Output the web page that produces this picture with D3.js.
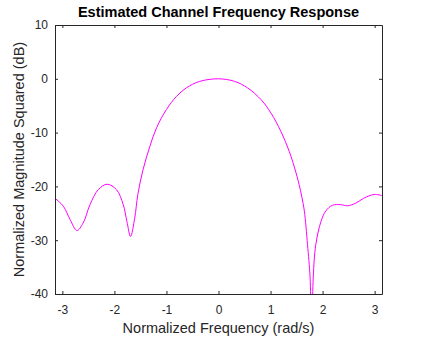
<!DOCTYPE html>
<html>
<head>
<meta charset="utf-8">
<script src="https://cdn.jsdelivr.net/npm/d3@7"></script>
<style>
  html, body { margin: 0; padding: 0; background: #fff; }
  svg { display: block; font-family: "Liberation Sans", Arial, Helvetica, sans-serif; }
</style>
</head>
<body>
<svg id="chart" width="423" height="338"></svg>
<script>
// Normalized frequency (rad/s) samples of the estimated channel response
const freq = [-3.1416, -2.98, -2.85, -2.72, -2.60, -2.47, -2.31, -2.14, -1.96, -1.83, -1.76, -1.69,
  -1.61, -1.55, -1.45, -1.32, -1.19, -1.00, -0.81, -0.62, -0.36, 0.00,
  0.31, 0.56, 0.82, 1.01, 1.20, 1.36, 1.49, 1.55, 1.60, 1.65, 1.71, 1.76, 1.79,
  1.82, 1.87, 1.97, 2.06, 2.19, 2.35, 2.48, 2.64, 2.79, 2.99, 3.1416];
// Normalized magnitude squared (dB)
const magDb = [-22.2, -23.7, -26.2, -28.2, -26.8, -23.4, -20.6, -19.6, -20.6, -23.4, -26.5, -29.3,
  -25.9, -21.5, -16.9, -12.6, -9.1, -5.7, -3.3, -1.7, -0.48, 0.0,
  -0.48, -1.7, -3.9, -6.4, -9.8, -13.5, -17.5, -19.7, -21.9, -24.6, -30.8, -37.0, -50.0,
  -37.0, -30.8, -26.5, -24.6, -23.5, -23.4, -23.6, -23.1, -22.2, -21.5, -21.7];

const xTicks = [-3, -2, -1, 0, 1, 2, 3];
const yTicks = [-40, -30, -20, -10, 0, 10];

const svg = d3.select("#chart");
const plotLeft = 55, plotRight = 382, plotTop = 25, plotBottom = 294;
const axisColor = "#262626";
const fmt = d => String(d);

const x = d3.scaleLinear().domain([-Math.PI, Math.PI]).range([plotLeft, plotRight]);
const y = d3.scaleLinear().domain([-40, 10]).range([plotBottom, plotTop]);

svg.append("defs").append("clipPath").attr("id", "plotArea")
  .append("rect").attr("x", plotLeft).attr("y", plotTop)
  .attr("width", plotRight - plotLeft).attr("height", plotBottom - plotTop);

// Response curve
const pts = freq.map((f, i) => [f, magDb[i]]);
svg.append("path")
  .datum(pts)
  .attr("clip-path", "url(#plotArea)")
  .attr("fill", "none")
  .attr("stroke", "#ff00ff")
  .attr("stroke-width", 1)
  .attr("d", d3.line().x(d => x(d[0])).y(d => y(d[1])).curve(d3.curveCatmullRom.alpha(0.5)));

// Axes with inward ticks on all four sides
function styleAxis(g) {
  g.selectAll("path.domain").attr("stroke", axisColor);
  g.selectAll(".tick line").attr("stroke", axisColor);
  g.selectAll(".tick text").attr("fill", axisColor).attr("font-size", "12px")
    .attr("font-family", "Liberation Sans, Arial, sans-serif");
}

svg.append("g").attr("transform", `translate(0,${plotBottom})`)
  .call(d3.axisBottom(x).tickValues(xTicks).tickSizeInner(-3).tickSizeOuter(0).tickPadding(11).tickFormat(fmt))
  .call(styleAxis);
svg.append("g").attr("transform", `translate(0,${plotTop})`)
  .call(d3.axisTop(x).tickValues(xTicks).tickSizeInner(-3).tickSizeOuter(0).tickFormat(""))
  .call(styleAxis);
svg.append("g").attr("transform", `translate(${plotLeft},0)`)
  .call(d3.axisLeft(y).tickValues(yTicks).tickSizeInner(-3).tickSizeOuter(0).tickPadding(7).tickFormat(fmt))
  .call(styleAxis);
svg.append("g").attr("transform", `translate(${plotRight},0)`)
  .call(d3.axisRight(y).tickValues(yTicks).tickSizeInner(-3).tickSizeOuter(0).tickFormat(""))
  .call(styleAxis);

// Title and axis labels
svg.append("text")
  .attr("x", (plotLeft + plotRight) / 2).attr("y", 17)
  .attr("text-anchor", "middle").attr("font-weight", "bold").attr("font-size", "14.5px")
  .attr("fill", "#000")
  .text("Estimated Channel Frequency Response");

svg.append("text")
  .attr("x", (plotLeft + plotRight) / 2).attr("y", 333)
  .attr("text-anchor", "middle").attr("font-size", "14.5px").attr("fill", axisColor)
  .text("Normalized Frequency (rad/s)");

svg.append("text")
  .attr("transform", `translate(24,${(plotTop + plotBottom) / 2}) rotate(-90)`)
  .attr("text-anchor", "middle").attr("font-size", "14.5px").attr("fill", axisColor)
  .text("Normalized Magnitude Squared (dB)");
</script>
</body>
</html>
